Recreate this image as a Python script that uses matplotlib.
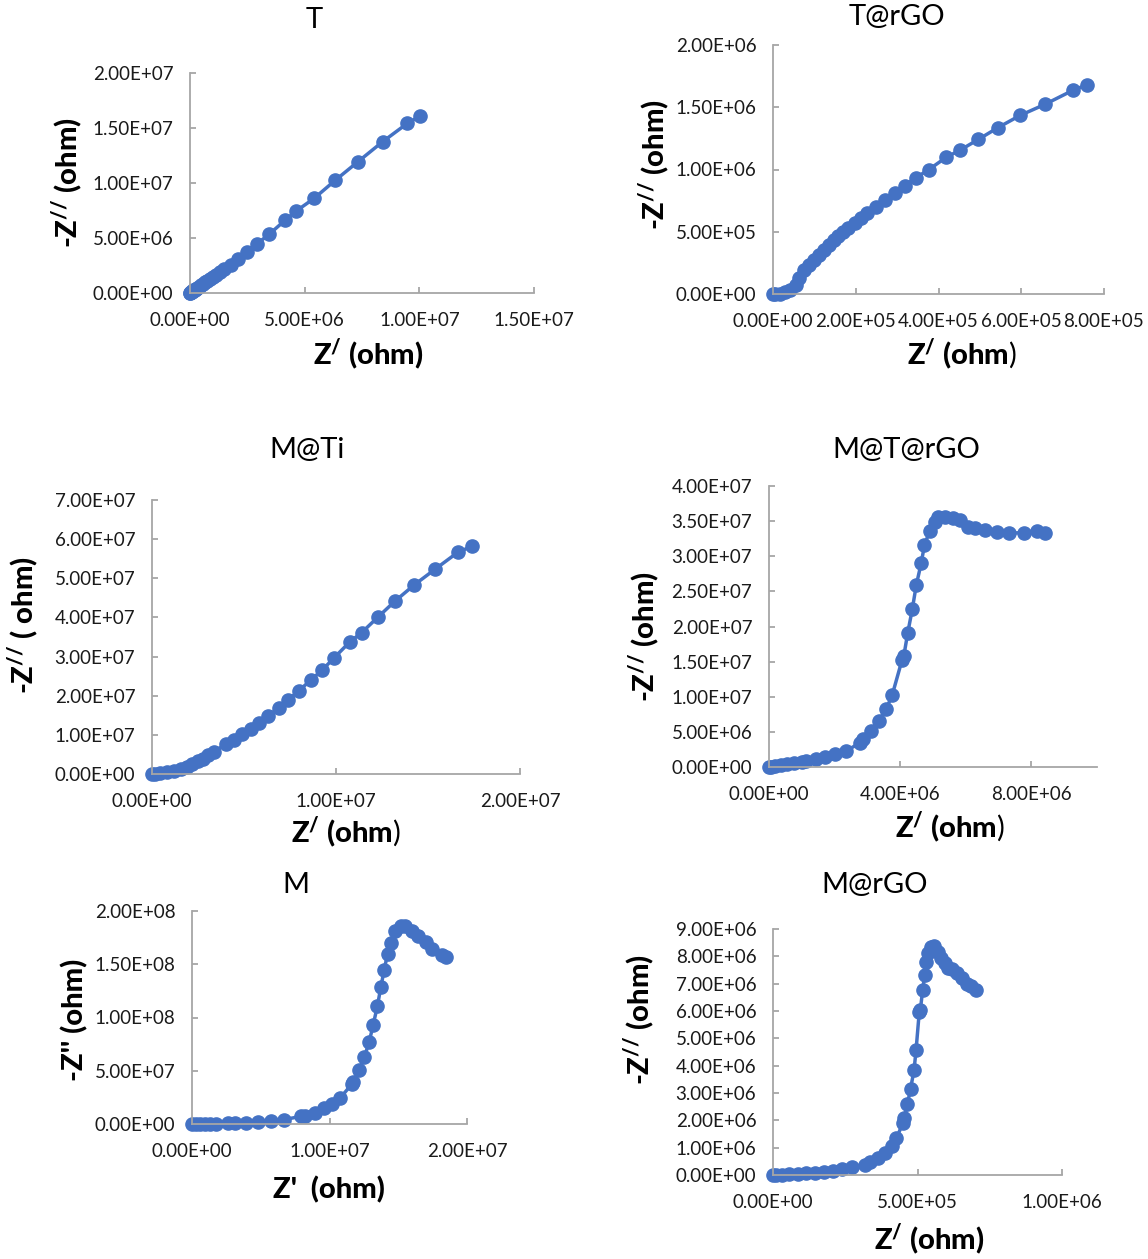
import matplotlib
matplotlib.use('Agg')
import matplotlib.pyplot as plt
from matplotlib.ticker import FuncFormatter

plt.rcParams['font.family'] = ['Lato', 'DejaVu Sans']
plt.rcParams['mathtext.fontset'] = 'custom'
plt.rcParams['mathtext.rm'] = 'Lato'
plt.rcParams['mathtext.bf'] = 'Lato:black'

# ---------- data (Z' , -Z'') ----------
t_x = [0, 0.01e6, 0.03e6, 0.05e6, 0.08e6, 0.11e6, 0.15e6, 0.2e6, 0.25e6, 0.31e6, 0.38e6,
       0.46e6, 0.55e6, 0.65e6, 0.76e6, 0.88e6, 1.0e6, 1.15e6, 1.3e6, 1.5e6, 1.77e6, 2.08e6,
       2.5e6, 2.92e6, 3.44e6, 4.14e6, 4.63e6, 5.41e6, 6.33e6, 7.31e6, 8.41e6, 9.47e6, 1.005e7]
t_y = [0, 0.02e6, 0.05e6, 0.08e6, 0.12e6, 0.17e6, 0.23e6, 0.3e6, 0.38e6, 0.47e6, 0.57e6,
       0.69e6, 0.82e6, 0.97e6, 1.12e6, 1.3e6, 1.47e6, 1.68e6, 1.9e6, 2.2e6, 2.58e6, 3.1e6,
       3.71e6, 4.47e6, 5.32e6, 6.6e6, 7.45e6, 8.6e6, 1.024e7, 1.191e7, 1.377e7, 1.541e7, 1.611e7]

trgo_x = [0, 0.06e5, 0.18e5, 0.30e5, 0.42e5, 0.55e5, 0.63e5, 0.75e5, 0.87e5, 1.0e5, 1.12e5,
          1.24e5, 1.36e5, 1.47e5, 1.58e5, 1.69e5, 1.81e5, 1.97e5, 2.12e5, 2.28e5, 2.5e5,
          2.71e5, 2.95e5, 3.18e5, 3.45e5, 3.77e5, 4.19e5, 4.52e5, 4.96e5, 5.43e5, 5.97e5,
          6.57e5, 7.26e5, 7.59e5]
trgo_y = [0, 0.002e6, 0.004e6, 0.013e6, 0.035e6, 0.075e6, 0.129e6, 0.19e6, 0.236e6, 0.276e6,
          0.316e6, 0.357e6, 0.397e6, 0.43e6, 0.464e6, 0.499e6, 0.531e6, 0.571e6, 0.611e6,
          0.651e6, 0.70e6, 0.753e6, 0.812e6, 0.871e6, 0.933e6, 1.0e6, 1.099e6, 1.155e6,
          1.241e6, 1.335e6, 1.434e6, 1.523e6, 1.638e6, 1.681e6]

mti_x = [0, 0.015e7, 0.044e7, 0.083e7, 0.122e7, 0.16e7, 0.19e7, 0.219e7, 0.248e7, 0.277e7,
         0.306e7, 0.335e7, 0.402e7, 0.447e7, 0.491e7, 0.538e7, 0.584e7, 0.632e7, 0.689e7,
         0.741e7, 0.799e7, 0.863e7, 0.926e7, 0.988e7, 1.074e7, 1.139e7, 1.226e7, 1.319e7,
         1.425e7, 1.538e7, 1.661e7, 1.737e7]
mti_y = [0, 0.005e7, 0.017e7, 0.043e7, 0.085e7, 0.13e7, 0.18e7, 0.26e7, 0.32e7, 0.39e7,
         0.48e7, 0.56e7, 0.77e7, 0.88e7, 1.01e7, 1.15e7, 1.31e7, 1.49e7, 1.69e7, 1.90e7,
         2.13e7, 2.40e7, 2.66e7, 2.96e7, 3.37e7, 3.61e7, 4.0e7, 4.41e7, 4.83e7, 5.23e7,
         5.66e7, 5.815e7]

mtrgo_x = [0, 0.05e6, 0.18e6, 0.36e6, 0.56e6, 0.77e6, 1.02e6, 1.14e6, 1.43e6, 1.71e6, 2.02e6,
           2.35e6, 2.78e6, 2.88e6, 3.11e6, 3.34e6, 3.57e6, 3.76e6, 4.06e6, 4.11e6, 4.23e6,
           4.37e6, 4.49e6, 4.64e6, 4.74e6, 4.90e6, 5.05e6, 5.15e6, 5.36e6, 5.61e6, 5.82e6,
           6.07e6, 6.28e6, 6.58e6, 6.94e6, 7.32e6, 7.76e6, 8.16e6, 8.40e6]
mtrgo_y = [0, 0.05e6, 0.14e6, 0.33e6, 0.47e6, 0.62e6, 0.76e6, 0.85e6, 1.09e6, 1.42e6, 1.8e6,
           2.27e6, 3.46e6, 3.93e6, 5.11e6, 6.53e6, 8.2e6, 1.03e7, 1.53e7, 1.58e7, 1.91e7,
           2.25e7, 2.59e7, 2.90e7, 3.16e7, 3.36e7, 3.49e7, 3.555e7, 3.565e7, 3.54e7, 3.51e7,
           3.42e7, 3.399e7, 3.375e7, 3.342e7, 3.328e7, 3.337e7, 3.366e7, 3.333e7]

m_x = [0, 0.03e7, 0.06e7, 0.096e7, 0.133e7, 0.176e7, 0.265e7, 0.313e7, 0.393e7, 0.482e7,
       0.576e7, 0.667e7, 0.795e7, 0.819e7, 0.894e7, 0.957e7, 1.019e7, 1.077e7, 1.164e7,
       1.173e7, 1.217e7, 1.253e7, 1.289e7, 1.318e7, 1.349e7, 1.373e7, 1.398e7, 1.422e7,
       1.446e7, 1.477e7, 1.518e7, 1.549e7, 1.598e7, 1.646e7, 1.699e7, 1.747e7, 1.819e7, 1.848e7]
m_y = [0, 0.001e8, 0.001e8, 0.002e8, 0.003e8, 0.003e8, 0.006e8, 0.009e8, 0.013e8, 0.022e8,
       0.031e8, 0.041e8, 0.072e8, 0.078e8, 0.106e8, 0.147e8, 0.188e8, 0.244e8, 0.376e8,
       0.397e8, 0.507e8, 0.626e8, 0.773e8, 0.933e8, 1.111e8, 1.283e8, 1.449e8, 1.596e8,
       1.70e8, 1.815e8, 1.856e8, 1.862e8, 1.815e8, 1.768e8, 1.712e8, 1.643e8, 1.587e8, 1.565e8]

mrgo_x = [0, 0.12e5, 0.30e5, 0.55e5, 0.85e5, 1.15e5, 1.46e5, 1.76e5, 2.09e5, 2.40e5, 2.73e5,
          3.19e5, 3.36e5, 3.62e5, 3.88e5, 4.13e5, 4.27e5, 4.49e5, 4.55e5, 4.65e5, 4.76e5,
          4.88e5, 4.95e5, 5.06e5, 5.10e5, 5.18e5, 5.25e5, 5.30e5, 5.38e5, 5.46e5, 5.58e5,
          5.70e5, 5.83e5, 5.95e5, 6.07e5, 6.19e5, 6.35e5, 6.55e5, 6.71e5, 6.86e5, 7.01e5]
mrgo_y = [0, 0.005e6, 0.012e6, 0.024e6, 0.036e6, 0.06e6, 0.085e6, 0.12e6, 0.16e6, 0.22e6,
          0.28e6, 0.38e6, 0.46e6, 0.61e6, 0.79e6, 1.07e6, 1.34e6, 1.89e6, 2.10e6, 2.58e6,
          3.16e6, 3.83e6, 4.57e6, 5.95e6, 6.05e6, 6.78e6, 7.32e6, 7.81e6, 8.11e6, 8.33e6,
          8.36e6, 8.17e6, 7.93e6, 7.75e6, 7.57e6, 7.53e6, 7.38e6, 7.2e6, 7.0e6, 6.90e6, 6.78e6]

W, H = 1148, 1259
fig = plt.figure(figsize=(W / 100, H / 100), dpi=100)

BLUE = '#4472C4'
AXC = '#A6A6A6'
sci = FuncFormatter(lambda v, p: f"{v:.2E}")

lab_z1 = r'$\mathbf{Z^{/}}$ (ohm)'
lab_z1b = r'$\mathbf{Z^{/}}$ (ohm$\mathrm{)}$'
lab_z2 = r'-$\mathbf{Z^{//}}$ (ohm)'

# pixel box, data, ticks/limits, title, y label, x label (pixel centres)
panels = [
    ((190, 534, 293, 73), t_x, t_y, [0, 5e6, 1e7, 1.5e7], (0, 1.5e7), [0, 5e6, 1e7, 1.5e7, 2e7], (0, 2e7),
     'T', (314, 20), lab_z2, (68, 183), lab_z1, (368, 355)),
    ((773, 1104, 294, 45), trgo_x, trgo_y, [0, 2e5, 4e5, 6e5, 8e5], (0, 8e5),
     [0, 5e5, 1e6, 1.5e6, 2e6], (0, 2e6),
     'T@rGO', (897, 17), lab_z2, (655, 165), lab_z1b, (962, 355)),
    ((152, 520, 774, 500), mti_x, mti_y, [0, 1e7, 2e7], (0, 2e7),
     [0, 1e7, 2e7, 3e7, 4e7, 5e7, 6e7, 7e7], (0, 7e7),
     'M@Ti', (307, 450), r'-$\mathbf{Z^{//}}$ ( ohm)', (24, 625), lab_z1b, (346, 833)),
    ((769, 1097, 767, 486), mtrgo_x, mtrgo_y, [0, 4e6, 8e6], (0, 1e7),
     [0, 5e6, 1e7, 1.5e7, 2e7, 2.5e7, 3e7, 3.5e7, 4e7], (0, 4e7),
     'M@T@rGO', (906, 450), lab_z2, (645, 637), lab_z1b, (950, 828)),
    ((192, 467, 1124, 911), m_x, m_y, [0, 1e7, 2e7], (0, 2e7),
     [0, 5e7, 1e8, 1.5e8, 2e8], (0, 2e8),
     'M', (296, 885), "-Z'' (ohm)", (75, 1020), "Z'  (ohm)", (329, 1190)),
    ((773, 1062, 1175, 929), mrgo_x, mrgo_y, [0, 5e5, 1e6], (0, 1e6),
     [0, 1e6, 2e6, 3e6, 4e6, 5e6, 6e6, 7e6, 8e6, 9e6], (0, 9e6),
     'M@rGO', (875, 885), lab_z2, (640, 1020), lab_z1, (929, 1240)),
]

for (box, xs, ys, xt, xl, yt, yl, title, tpos, ylab, ypos, xlab, xpos) in panels:
    x0, x1, yb, yt_px = box
    ax = fig.add_axes([x0 / W, 1 - yb / H, (x1 - x0) / W, (yb - yt_px) / H])
    ax.plot(xs, ys, color=BLUE, lw=2.5, marker='o', ms=9.5, clip_on=False)
    ax.set_xlim(*xl)
    ax.set_ylim(*yl)
    ax.set_xticks(xt)
    ax.set_yticks(yt)
    ax.xaxis.set_major_formatter(sci)
    ax.yaxis.set_major_formatter(sci)
    for s in ['top', 'right']:
        ax.spines[s].set_visible(False)
    for s in ['left', 'bottom']:
        ax.spines[s].set_color(AXC)
        ax.spines[s].set_linewidth(1.3)
    ax.tick_params(direction='in', length=4, width=1.3, color=AXC,
                   labelsize=13.5, labelcolor='#1a1a1a', pad=12)
    ax.tick_params(axis='x', pad=14)
    ax.patch.set_alpha(0)

    fig.text(tpos[0] / W, 1 - tpos[1] / H, title, ha='center', va='center', fontsize=21)
    fig.text(ypos[0] / W, 1 - ypos[1] / H, ylab, ha='center', va='center', fontsize=21,
             fontweight='black', rotation=90)
    fig.text(xpos[0] / W, 1 - xpos[1] / H, xlab, ha='center', va='center', fontsize=21,
             fontweight='black')

fig.savefig('out.png', dpi=100)
